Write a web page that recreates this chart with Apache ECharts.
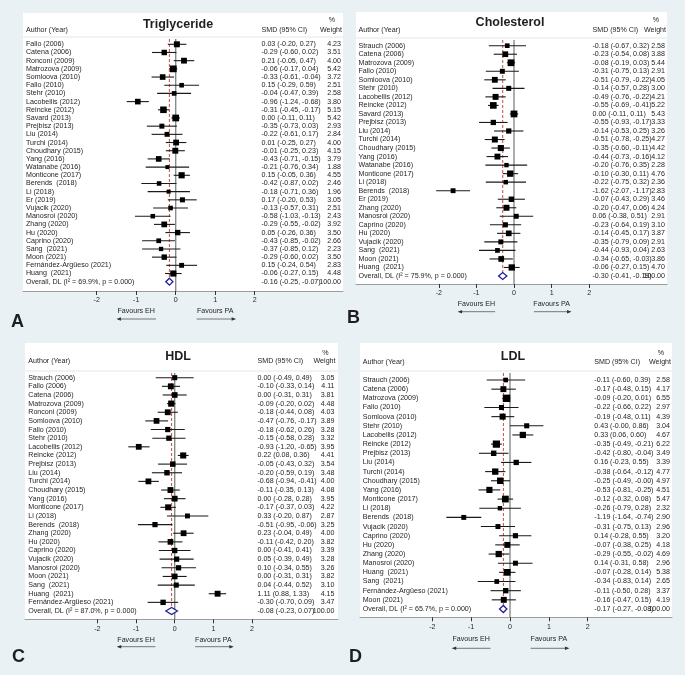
<!DOCTYPE html>
<html><head><meta charset="utf-8">
<script src="https://cdn.jsdelivr.net/npm/echarts@6/dist/echarts.min.js"></script>
<style>html,body{margin:0;padding:0;background:#eaf1f4}#c{width:685px;height:675px}</style>
</head><body><div id="c"></div><script>
const FONT = '"Liberation Sans", Arial, Helvetica, sans-serif';
const xTicks = [-2, -1, 0, 1, 2];

// ---------- A: Triglyceride ----------
const tgStudies = ['Fallo (2006)','Catena (2006)','Ronconi (2009)','Matrozova (2009)','Somloova (2010)','Fallo (2010)','Stehr (2010)','Lacobellis (2012)','Reincke (2012)','Savard (2013)','Prejbisz (2013)','Liu (2014)','Turchi (2014)','Choudhary (2015)','Yang (2016)','Watanabe (2016)','Monticone (2017)','Berends  (2018)','Li (2018)','Er (2019)','Vujacik (2020)','Manosroi (2020)','Zhang (2020)','Hu (2020)','Caprino (2020)','Sang  (2021)','Moon (2021)','Fernández-Argüeso (2021)','Huang  (2021)'];
const tgSmd = [0.03,-0.29,0.21,-0.06,-0.33,0.15,-0.04,-0.96,-0.31,0.00,-0.35,-0.22,0.01,-0.01,-0.43,-0.21,0.15,-0.42,-0.18,0.17,-0.13,-0.58,-0.29,0.05,-0.43,-0.37,-0.29,0.15,-0.06];
const tgLo = [-0.20,-0.60,-0.05,-0.17,-0.61,-0.29,-0.47,-1.24,-0.45,-0.11,-0.73,-0.61,-0.25,-0.25,-0.71,-0.76,-0.05,-0.87,-0.71,-0.20,-0.57,-1.03,-0.55,-0.26,-0.85,-0.85,-0.60,-0.24,-0.27];
const tgHi = [0.27,0.02,0.47,0.04,-0.04,0.59,0.39,-0.68,-0.17,0.11,0.03,0.17,0.27,0.23,-0.15,0.34,0.36,0.02,0.36,0.53,0.31,-0.13,-0.02,0.36,-0.02,0.12,0.02,0.54,0.15];
const tgWeight = [4.23,3.51,4.00,5.42,3.72,2.51,2.58,3.80,5.15,5.42,2.93,2.84,4.00,4.15,3.79,1.88,4.55,2.46,1.96,3.05,2.51,2.43,3.92,3.50,2.66,2.23,3.50,2.83,4.48];
const tgOverall = [-0.16,-0.25,-0.07];
const tgI2 = '69.9%';

// ---------- B: Cholesterol ----------
const chStudies = ['Strauch (2006)','Catena (2006)','Matrozova (2009)','Fallo (2010)','Somloova (2010)','Stehr (2010)','Lacobellis (2012)','Reincke (2012)','Savard (2013)','Prejbisz (2013)','Liu (2014)','Turchi (2014)','Choudhary (2015)','Yang (2016)','Watanabe (2016)','Monticone (2017)','Li (2018)','Berends  (2018)','Er (2019)','Zhang (2020)','Manosroi (2020)','Caprino (2020)','Hu (2020)','Vujacik (2020)','Sang  (2021)','Moon (2021)','Huang  (2021)'];
const chSmd = [-0.18,-0.23,-0.08,-0.31,-0.51,-0.14,-0.49,-0.55,0.00,-0.55,-0.14,-0.51,-0.35,-0.44,-0.20,-0.10,-0.22,-1.62,-0.07,-0.20,0.06,-0.23,-0.14,-0.35,-0.44,-0.34,-0.06];
const chLo = [-0.67,-0.54,-0.19,-0.75,-0.79,-0.57,-0.76,-0.69,-0.11,-0.93,-0.53,-0.78,-0.60,-0.73,-0.76,-0.30,-0.75,-2.07,-0.43,-0.47,-0.38,-0.64,-0.45,-0.79,-0.93,-0.65,-0.27];
const chHi = [0.32,0.08,0.03,0.13,-0.22,0.28,-0.22,-0.41,0.11,-0.17,0.25,-0.25,-0.11,-0.16,0.35,0.11,0.32,-1.17,0.29,0.06,0.51,0.19,0.17,0.09,0.04,-0.03,0.15];
const chWeight = [2.58,3.88,5.44,2.91,4.05,3.00,4.21,5.22,5.43,3.33,3.26,4.27,4.42,4.12,2.28,4.76,2.36,2.83,3.46,4.24,2.91,3.10,3.87,2.91,2.63,3.86,4.70];
const chOverall = [-0.30,-0.41,-0.19];
const chI2 = '75.9%';

// ---------- C: HDL ----------
const hdStudies = ['Strauch (2006)','Fallo (2006)','Catena (2006)','Matrozova (2009)','Ronconi (2009)','Somloova (2010)','Fallo (2010)','Stehr (2010)','Lacobellis (2012)','Reincke (2012)','Prejbisz (2013)','Liu (2014)','Turchi (2014)','Choudhary (2015)','Yang (2016)','Monticone (2017)','Li (2018)','Berends  (2018)','Zhang (2020)','Hu (2020)','Caprino (2020)','Vujacik (2020)','Manosroi (2020)','Moon (2021)','Sang  (2021)','Huang  (2021)','Fernández-Argüeso (2021)'];
const hdSmd = [0.00,-0.10,0.00,-0.09,-0.18,-0.47,-0.18,-0.15,-0.93,0.22,-0.05,-0.20,-0.68,-0.11,0.00,-0.17,0.33,-0.51,0.23,-0.11,0.00,0.05,0.10,0.00,0.04,1.11,-0.30];
const hdLo = [-0.49,-0.33,-0.31,-0.20,-0.44,-0.76,-0.62,-0.58,-1.20,0.08,-0.43,-0.59,-0.94,-0.35,-0.28,-0.37,-0.20,-0.95,-0.04,-0.42,-0.41,-0.39,-0.34,-0.31,-0.44,0.88,-0.70];
const hdHi = [0.49,0.14,0.31,0.02,0.08,-0.17,0.26,0.28,-0.65,0.36,0.32,0.19,-0.41,0.13,0.28,0.03,0.87,-0.06,0.49,0.20,0.41,0.49,0.55,0.31,0.52,1.33,0.09];
const hdWeight = [3.05,4.11,3.81,4.48,4.03,3.89,3.28,3.32,3.95,4.41,3.54,3.48,4.00,4.08,3.95,4.22,2.87,3.25,4.00,3.82,3.39,3.28,3.26,3.82,3.10,4.15,3.47];
const hdOverall = [-0.08,-0.23,0.07];
const hdI2 = '87.0%';

// ---------- D: LDL ----------
const ldStudies = ['Strauch (2006)','Catena (2006)','Matrozova (2009)','Fallo (2010)','Somloova (2010)','Stehr (2010)','Lacobellis (2012)','Reincke (2012)','Prejbisz (2013)','Liu (2014)','Turchi (2014)','Choudhary (2015)','Yang (2016)','Monticone (2017)','Li (2018)','Berends  (2018)','Vujacik (2020)','Caprino (2020)','Hu (2020)','Zhang (2020)','Manosroi (2020)','Huang  (2021)','Sang  (2021)','Fernández-Argüeso (2021)','Moon (2021)'];
const ldSmd = [-0.11,-0.17,-0.09,-0.22,-0.19,0.43,0.33,-0.35,-0.42,0.16,-0.38,-0.25,-0.53,-0.12,-0.26,-1.19,-0.31,0.14,-0.07,-0.29,0.14,-0.07,-0.34,-0.11,-0.16];
const ldLo = [-0.60,-0.48,-0.20,-0.66,-0.48,-0,0.06,-0.49,-0.80,-0.23,-0.64,-0.49,-0.81,-0.32,-0.79,-1.64,-0.75,-0.28,-0.38,-0.55,-0.31,-0.28,-0.83,-0.50,-0.47];
const ldHi = [0.39,0.15,0.01,0.22,0.11,0.86,0.60,-0.21,-0.04,0.55,-0.12,-0,-0.25,0.08,0.28,-0.74,0.13,0.55,0.25,-0.02,0.58,0.14,0.14,0.28,0.15];
const ldWeight = [2.58,4.17,6.55,2.97,4.39,3.04,4.67,6.22,3.49,3.39,4.77,4.97,4.51,5.47,2.32,2.90,2.96,3.20,4.18,4.69,2.96,5.38,2.65,3.37,4.19];
const ldOverall = [-0.17,-0.27,-0.08];
const ldI2 = '65.7%';

// ---------- layout (pixels) ----------
const LAYOUT = [
  {box:[23,13,343,291], top:39, zero:175.7, unit:39.5, firstY:44.3, lastY:281.7, labelX:26, smdX:261.5, wRight:341, headY:30, pctY:20.5, titleX:178, titleY:25, favY:311, arrowY:319, letterX:11, letterY:322},
  {box:[356,12,667,284], top:40, zero:514, unit:37.6, firstY:45.7, lastY:276, labelX:358.5, smdX:592.5, wRight:665, headY:30, pctY:20.5, titleX:510, titleY:23, favY:304, arrowY:311.7, letterX:347, letterY:318},
  {box:[25,343,338,619.3], top:373, zero:174.7, unit:38.65, firstY:377.7, lastY:611, labelX:28.3, smdX:257.5, wRight:334.5, headY:361, pctY:353, titleX:178, titleY:357, favY:640, arrowY:646.7, letterX:12, letterY:657},
  {box:[360,343,672,617.3], top:373, zero:510, unit:38.85, firstY:380, lastY:609, labelX:362.7, smdX:594.3, wRight:670, headY:362, pctY:352.7, titleX:513, titleY:357, favY:639, arrowY:648.3, letterX:349, letterY:657}
];

const panels = [
  {title:'Triglyceride', letter:'A', studies:tgStudies, smd:tgSmd, lo:tgLo, hi:tgHi, weight:tgWeight, overall:tgOverall, i2:tgI2},
  {title:'Cholesterol', letter:'B', studies:chStudies, smd:chSmd, lo:chLo, hi:chHi, weight:chWeight, overall:chOverall, i2:chI2},
  {title:'HDL', letter:'C', studies:hdStudies, smd:hdSmd, lo:hdLo, hi:hdHi, weight:hdWeight, overall:hdOverall, i2:hdI2},
  {title:'LDL', letter:'D', studies:ldStudies, smd:ldSmd, lo:ldLo, hi:ldHi, weight:ldWeight, overall:ldOverall, i2:ldI2}
];

const BOX_K = 2.9;
const SMALL = 7.1;
const TXT = '#1e1e1e';

function f2(v){ const s = Math.abs(v).toFixed(2); return (v < 0 || Object.is(v,-0)) ? '-' + s : s; }
function txt(x, y, text, align, size, bold, extra){
  return Object.assign({type:'text', x:x, y:y, silent:true, style:{text:text, fill:TXT, font:(bold?'bold ':'') + (size||SMALL) + 'px ' + FONT, align:align||'left', verticalAlign:'middle', textAlign:align||'left', textVerticalAlign:'middle'}}, extra||{});
}

const grids=[], xAxes=[], yAxes=[], series=[], graphics=[];

panels.forEach((p, k) => {
  const L = LAYOUT[k];
  const n = p.studies.length;
  const step = (L.lastY - L.firstY) / n;
  const gH = L.box[3] - L.top;
  grids.push({left:L.box[0], top:L.top, width:L.box[2]-L.box[0], height:gH});
  xAxes.push({
    gridIndex:k, type:'value',
    min:(L.box[0]-L.zero)/L.unit, max:(L.box[2]-L.zero)/L.unit,
    axisLine:{show:true, onZero:false, lineStyle:{color:'#9c9c9c', width:1}},
    axisTick:{show:true, customValues:xTicks, length:4, lineStyle:{color:'#333', width:1}},
    axisLabel:{customValues:xTicks, fontSize:SMALL, fontFamily:FONT, color:'#2a2a2a', margin:6},
    splitLine:{show:false}
  });
  yAxes.push({gridIndex:k, type:'value', inverse:true, show:false,
    min:-(L.firstY - L.top)/step, max:n + (L.box[3] - L.lastY)/step});

  const labels = p.studies.concat(['Overall, DL (I\u00B2 = ' + p.i2 + ', p = 0.000)']);
  const rows = p.studies.map((s,i) => [i, p.smd[i], p.lo[i], p.hi[i], p.weight[i], 0]);
  rows.push([n, p.overall[0], p.overall[1], p.overall[2], 100, 1]);

  // reference lines
  series.push({
    type:'custom', xAxisIndex:k, yAxisIndex:k, silent:true, clip:false, z:2,
    data:[[n, p.overall[0]]],
    renderItem:(params, api) => {
      const cs = params.coordSys;
      const z0 = api.coord([0, 0])[0];
      const ov = api.coord([api.value(1), api.value(0)]);
      return {type:'group', children:[
        {type:'line', shape:{x1:z0, y1:cs.y, x2:z0, y2:cs.y+cs.height}, style:{stroke:'#8a8a8a', lineWidth:1.4}},
        {type:'line', shape:{x1:ov[0], y1:cs.y, x2:ov[0], y2:ov[1]-3.5}, style:{stroke:'#c0392b', lineWidth:0.9, lineDash:[3,2]}}
      ]};
    }
  });

  // study rows
  series.push({
    type:'custom', xAxisIndex:k, yAxisIndex:k, silent:true, clip:false, z:3,
    data:rows,
    renderItem:(params, api) => {
      const i = api.value(0), s = api.value(1), lo = api.value(2), hi = api.value(3), w = api.value(4), isOv = api.value(5);
      const c = api.coord([s, i]), a = api.coord([lo, i]), b = api.coord([hi, i]);
      const ch = [];
      if (!isOv) {
        ch.push({type:'line', shape:{x1:a[0], y1:a[1], x2:b[0], y2:b[1]}, style:{stroke:'#1a1a1a', lineWidth:1.1}});
        const sd = BOX_K * Math.sqrt(w);
        ch.push({type:'rect', shape:{x:c[0]-sd/2, y:c[1]-sd/2, width:sd, height:sd}, style:{fill:'#000'}});
      } else {
        const h = 3.5;
        ch.push({type:'polygon', shape:{points:[[a[0],c[1]],[c[0],c[1]-h],[b[0],c[1]],[c[0],c[1]+h]]}, style:{fill:'#fff', stroke:'#1f1f9a', lineWidth:1.3}});
      }
      const idx = params.dataIndex;
      ch.push(txt(L.labelX, c[1], labels[idx], 'left'));
      ch.push(txt(L.smdX, c[1], f2(s) + ' (' + f2(lo) + ', ' + f2(hi) + ')', 'left'));
      ch.push(txt(L.wRight, c[1], isOv ? '100.00' : w.toFixed(2), 'right'));
      return {type:'group', children:ch};
    }
  });

  // decorations
  graphics.push({type:'rect', z:-1, silent:true, shape:{x:L.box[0], y:L.box[1], width:L.box[2]-L.box[0], height:L.box[3]-L.box[1]}, style:{fill:'#ffffff'}});
  graphics.push({type:'line', z:-1, silent:true, shape:{x1:L.box[0], y1:L.top-2, x2:L.box[2], y2:L.top-2}, style:{stroke:'#e9eff1', lineWidth:1.5}});
  graphics.push(txt(L.labelX, L.headY, 'Author (Year)', 'left'));
  graphics.push(txt(L.titleX, L.titleY, p.title, 'center', 12.5, true));
  graphics.push(txt(L.smdX, L.headY, 'SMD (95% CI)', 'left'));
  graphics.push(txt(L.wRight - 9, L.pctY, '%', 'center'));
  graphics.push(txt(L.wRight + 1, L.headY, 'Weight', 'right'));
  const xm = L.zero - L.unit, xp = L.zero + L.unit;
  graphics.push(txt(xm, L.favY, 'Favours EH', 'center'));
  graphics.push(txt(xp, L.favY, 'Favours PA', 'center'));
  const l1 = L.zero - 1.5*L.unit, l2 = L.zero - 0.5*L.unit, r1 = L.zero + 0.53*L.unit, r2 = L.zero + 1.53*L.unit, ay = L.arrowY;
  graphics.push({type:'line', silent:true, shape:{x1:l1+2, y1:ay, x2:l2, y2:ay}, style:{stroke:'#555', lineWidth:0.8}});
  graphics.push({type:'polygon', silent:true, shape:{points:[[l1,ay],[l1+4.5,ay-1.8],[l1+4.5,ay+1.8]]}, style:{fill:'#333'}});
  graphics.push({type:'line', silent:true, shape:{x1:r1, y1:ay, x2:r2-2, y2:ay}, style:{stroke:'#555', lineWidth:0.8}});
  graphics.push({type:'polygon', silent:true, shape:{points:[[r2,ay],[r2-4.5,ay-1.8],[r2-4.5,ay+1.8]]}, style:{fill:'#333'}});
  graphics.push(txt(L.letterX, L.letterY, p.letter, 'left', 18, true, {}));
});

const chart = echarts.init(document.getElementById('c'), null, {renderer:'canvas'});
chart.setOption({
  backgroundColor:'#eaf1f4',
  animation:false,
  grid:grids, xAxis:xAxes, yAxis:yAxes, series:series,
  graphic:{elements:graphics}
});
</script></body></html>
